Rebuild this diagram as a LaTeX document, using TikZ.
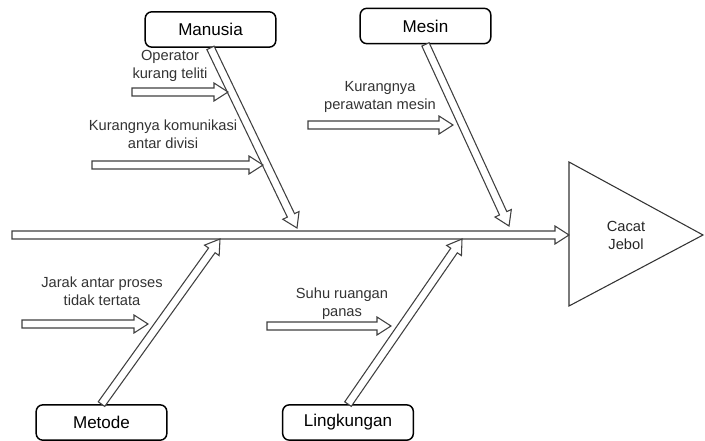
\documentclass[tikz,border=0pt]{standalone}
\usepackage{fontspec}
\setmainfont{Liberation Sans}
\usetikzlibrary{calc}

\tikzset{
  cause/.style={draw=black, line width=1.1pt, rounded corners=5pt, fill=white,
    minimum width=98pt, minimum height=26.5pt, font=\fontsize{12.8}{15}\selectfont},
  reason/.style={align=center, text=black!80, font=\fontsize{11}{13.5}\selectfont},
  fat/.style={draw=black!75, fill=white, line width=0.8pt, line join=miter},
  effect/.style={draw=black!80, line width=0.8pt}
}
\def\shaftw{3pt}
\def\headw{6.75pt}
\def\headlen{10.5pt}
% hollow arrow from #1 to #2
\newcommand\causearrow[2]{%
  \coordinate (fa-h) at ($(#2)!\headlen!(#1)$);
  \draw[fat] ($(#1)!\shaftw!90:(#2)$) -- ($(fa-h)!\shaftw!-90:(#1)$)
    -- ($(fa-h)!\headw!-90:(#1)$) -- (#2) -- ($(fa-h)!\headw!90:(#1)$)
    -- ($(fa-h)!\shaftw!90:(#1)$) -- ($(#1)!\shaftw!-90:(#2)$) -- cycle;
}

\begin{document}
\begin{tikzpicture}[x=0.75pt, y=-0.75pt]
    \useasboundingbox (0,0) rectangle (705,441);

    % kepala ikan
    \draw[effect] (569,162) -- (569,306) -- (703,235) -- cycle;
    \node[reason, text=black!85] (jebol) at (626,235) {Cacat\\Jebol};

    % tulang utama
    \coordinate (tail) at (12,235);
    \coordinate (head) at (569,235);
    \causearrow{tail}{head}

    % kategori
    \node[cause] (manusia) at (210.5,29.5) {Manusia};
    \node[cause] (mesin) at (425.5,26) {Mesin};
    \node[cause] (metode) at (101.5,422.5) {Metode};
    \node[cause] (lingkungan) at (348,422.5) {Lingkungan};

    \coordinate (manusia-tip) at (297,228);
    \coordinate (mesin-tip) at (509,226);
    \coordinate (metode-tip) at (220,239);
    \coordinate (lingkungan-tip) at (462,239);
    \causearrow{manusia.south}{manusia-tip}
    \causearrow{mesin.south}{mesin-tip}
    \causearrow{metode.north}{metode-tip}
    \causearrow{lingkungan.north}{lingkungan-tip}

    % penyebab
    \node[reason] (operator) at (170,66) {Operator\\kurang teliti};
    \coordinate (op-a) at (132,92);
    \coordinate (op-b) at (228,92);
    \causearrow{op-a}{op-b}

    \node[reason] (komunikasi) at (163,134) {Kurangnya komunikasi\\antar divisi};
    \coordinate (kom-a) at (92,165);
    \coordinate (kom-b) at (263,165);
    \causearrow{kom-a}{kom-b}

    \node[reason] (perawatan) at (380,97) {Kurangnya\\perawatan mesin};
    \coordinate (raw-a) at (308,125);
    \coordinate (raw-b) at (453,125);
    \causearrow{raw-a}{raw-b}

    \node[reason] (jarak) at (102,291) {Jarak antar proses\\tidak tertata};
    \coordinate (jar-a) at (22,324);
    \coordinate (jar-b) at (148,324);
    \causearrow{jar-a}{jar-b}

    \node[reason] (suhu) at (342,304) {Suhu ruangan\\panas};
    \coordinate (suhu-a) at (267,326);
    \coordinate (suhu-b) at (391,326);
    \causearrow{suhu-a}{suhu-b}
\end{tikzpicture}
\end{document}
